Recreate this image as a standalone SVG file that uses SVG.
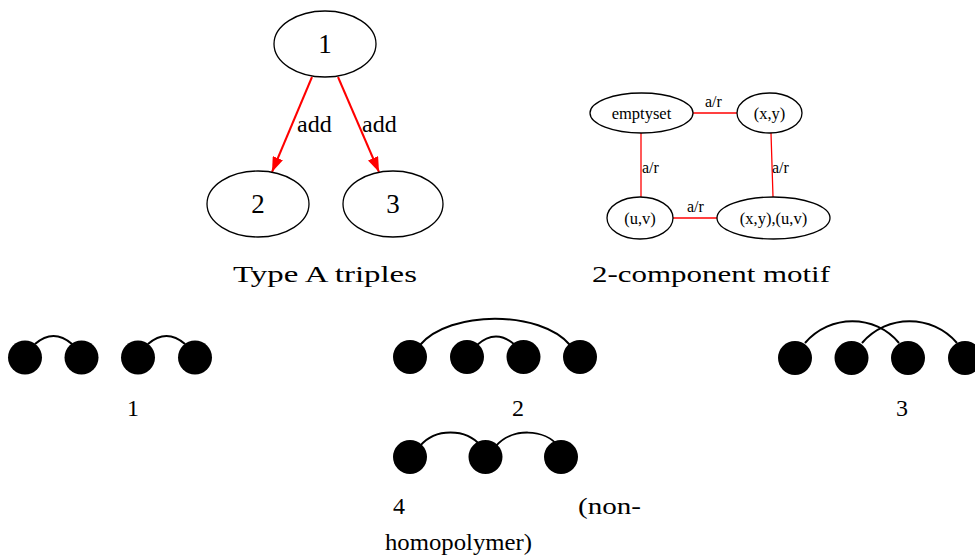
<svg xmlns="http://www.w3.org/2000/svg" width="975" height="557" viewBox="0 0 975 557">
<defs>
<style>
.node{fill:#fff;stroke:#000;stroke-width:1.3}
text{font-family:'Liberation Serif','DejaVu Serif',serif;fill:#000}
.red{stroke:#f00;fill:none}
.arc{stroke:#000;stroke-width:2;fill:none}
.bead{fill:#000}
</style>
<marker id="ah" markerWidth="15" markerHeight="11" refX="15" refY="5.5" orient="auto" markerUnits="userSpaceOnUse" viewBox="0 0 15 11">
<path d="M0,0 L15,5.5 L0,11 z" fill="#f00"/>
</marker>
</defs>
<rect width="975" height="557" fill="#fff"/>

<g id="connectors">
<line class="red" x1="312" y1="77" x2="272" y2="172" stroke-width="2" marker-end="url(#ah)"/>
<line class="red" x1="338" y1="77" x2="379" y2="172" stroke-width="2" marker-end="url(#ah)"/>
<line class="red" x1="693" y1="113" x2="737" y2="113" stroke-width="1.3"/>
<line class="red" x1="641" y1="133" x2="641" y2="197" stroke-width="1.3"/>
<line class="red" x1="771" y1="133" x2="773" y2="197" stroke-width="1.3"/>
<line class="red" x1="673" y1="218" x2="717" y2="218" stroke-width="1.3"/>
</g>
<g id="edge-labels">
<text x="297" y="132" font-size="24">add</text>
<text x="362" y="132" font-size="24">add</text>
<text x="705" y="107" font-size="16">a/r</text>
<text x="642" y="173" font-size="16">a/r</text>
<text x="772" y="173" font-size="16">a/r</text>
<text x="687" y="212" font-size="16">a/r</text>
</g>

<g id="n1"><ellipse class="node" cx="325" cy="44" rx="51" ry="33"/><text x="325" y="53" font-size="27" text-anchor="middle">1</text></g>
<g id="n2"><ellipse class="node" cx="258" cy="204" rx="51" ry="33"/><text x="258" y="213" font-size="27" text-anchor="middle">2</text></g>
<g id="n3"><ellipse class="node" cx="393" cy="204" rx="50" ry="33"/><text x="393" y="213" font-size="27" text-anchor="middle">3</text></g>

<g id="emptyset"><ellipse class="node" cx="641.5" cy="113" rx="51.5" ry="20"/><text x="641.5" y="119" font-size="16.5" text-anchor="middle">emptyset</text></g>
<g id="xy"><ellipse class="node" cx="769.5" cy="113" rx="32.5" ry="20"/><text x="769.5" y="119" font-size="16.5" text-anchor="middle">(x,y)</text></g>
<g id="uv"><ellipse class="node" cx="640" cy="218" rx="33" ry="21"/><text x="640" y="224" font-size="16.5" text-anchor="middle">(u,v)</text></g>
<g id="xyuv"><ellipse class="node" cx="773.5" cy="218" rx="56.5" ry="21"/><text x="773.5" y="224" font-size="16.5" text-anchor="middle">(x,y),(u,v)</text></g>

<text x="233" y="282" font-size="24" textLength="184" lengthAdjust="spacingAndGlyphs">Type A triples</text>
<text x="592" y="282" font-size="24" textLength="238" lengthAdjust="spacingAndGlyphs">2-component motif</text>

<g id="motif1">
<path class="arc" d="M35,344 Q53.5,328 72,344"/>
<path class="arc" d="M148,344 Q166.5,328 185,344"/>
<circle class="bead" cx="25" cy="357.5" r="17"/>
<circle class="bead" cx="81.5" cy="357.5" r="17"/>
<circle class="bead" cx="138" cy="357.5" r="17"/>
<circle class="bead" cx="195" cy="357.5" r="17"/>
<text x="133" y="416" font-size="24" text-anchor="middle">1</text>
</g>

<g id="motif2">
<path class="arc" d="M420,345 C450,310 540,310 570,345"/>
<path class="arc" d="M477,345 Q496,328 515,345"/>
<circle class="bead" cx="410" cy="357" r="17"/>
<circle class="bead" cx="467" cy="357" r="17"/>
<circle class="bead" cx="523.5" cy="357" r="17"/>
<circle class="bead" cx="580" cy="357" r="17"/>
<text x="518" y="416" font-size="24" text-anchor="middle">2</text>
</g>

<g id="motif3">
<path class="arc" d="M805,343 C830,314 875,314 899,343"/>
<path class="arc" d="M862,343 C887,314 932,314 957,343"/>
<circle class="bead" cx="795" cy="358" r="17"/>
<circle class="bead" cx="851.5" cy="358" r="17"/>
<circle class="bead" cx="908" cy="358" r="17"/>
<circle class="bead" cx="965" cy="358" r="17"/>
<text x="902" y="416" font-size="24" text-anchor="middle">3</text>
</g>

<g id="motif4">
<path class="arc" d="M420,446 C435,428 466,428 481,446"/>
<path class="arc" d="M496,446 C511,428 545,428 559,447"/>
<circle class="bead" cx="410" cy="457" r="17"/>
<circle class="bead" cx="485.5" cy="457" r="17"/>
<circle class="bead" cx="561" cy="457" r="17"/>
<text x="393" y="514" font-size="24">4</text>
<text x="578" y="514" font-size="24" textLength="63" lengthAdjust="spacingAndGlyphs">(non-</text>
<text x="385" y="550" font-size="24" textLength="147" lengthAdjust="spacingAndGlyphs">homopolymer)</text>
</g>
</svg>
